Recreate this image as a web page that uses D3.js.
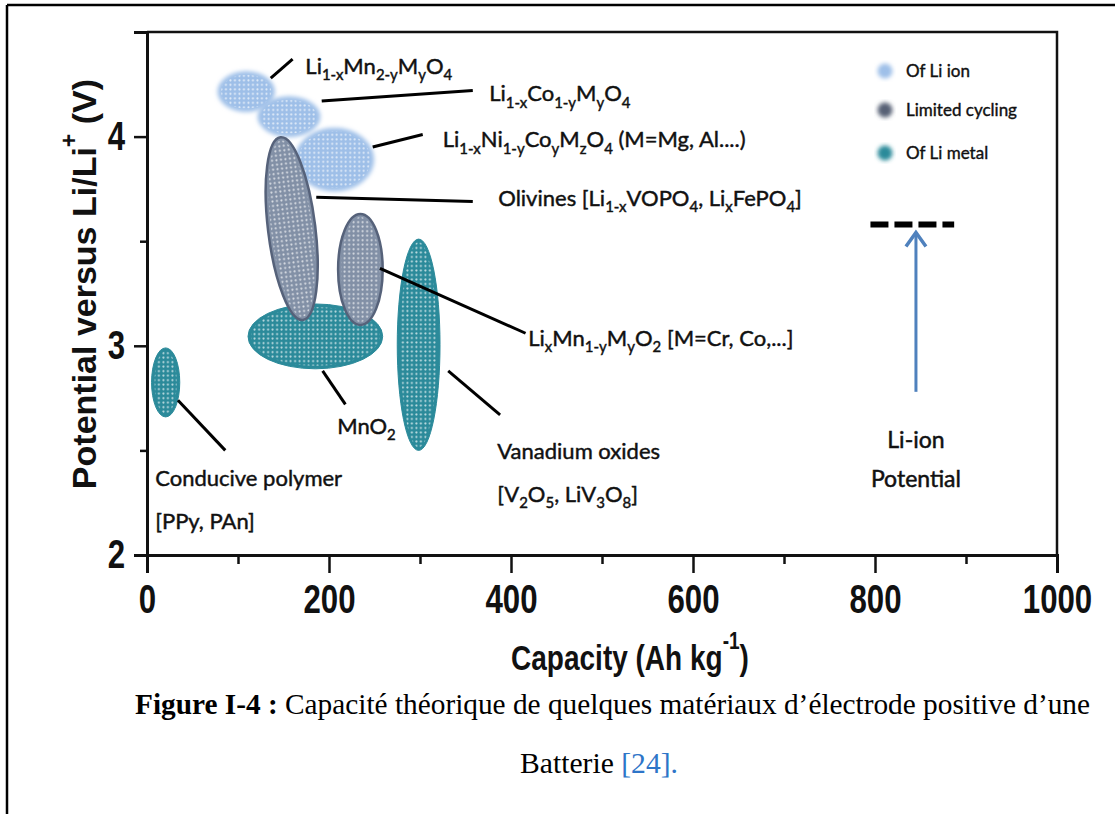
<!DOCTYPE html>
<html>
<head>
<meta charset="utf-8">
<script src="https://cdn.jsdelivr.net/npm/d3@7"></script>
<style>
  body { margin: 0; background: #fff; }
  svg { display: block; }
</style>
</head>
<body>
<svg id="chart"></svg>
<script>
// electrode materials: capacity range (Ah/kg), potential range (V), tilt, family
const names = ['Li_{1-x}Mn_{2-y}M_{y}O_{4}', 'Li_{1-x}Co_{1-y}M_{y}O_{4}', 'Li_{1-x}Ni_{1-y}Co_{y}M_{z}O_{4} (M=Mg, Al....)',
  'Olivines [Li_{1-x}VOPO_{4}, Li_{x}FePO_{4}]', 'Li_{x}Mn_{1-y}M_{y}O_{2} [M=Cr, Co,...]', 'MnO_{2}',
  'Conducive polymer', 'Vanadium oxides'];
const capMin = [78, 122, 163, 133, 210, 111, 5, 275];
const capMax = [140, 190, 249, 185, 259, 259, 36, 322];
const potMin = [4.12, 4.00, 3.74, 3.12, 3.10, 2.89, 2.66, 2.50];
const potMax = [4.31, 4.19, 4.04, 4.00, 3.63, 3.20, 2.99, 3.51];
const tilt = [0, 0, 0, -7, 0, 0, 0, 0];
const family = ['ion', 'ion', 'ion', 'limited', 'limited', 'metal', 'metal', 'metal'];

// leader lines (capacity, potential) from shape to label
const leaderFrom = [[136, 4.28], [192, 4.17], [248, 3.95], [186, 3.71], [256, 3.37], [193, 2.88], [34, 2.74], [331, 2.88]];
const leaderTo = [[160, 4.37], [358, 4.22], [303, 4.01], [358, 3.69], [416, 3.06], [218, 2.72], [86, 2.50], [388, 2.67]];
const labelAt = [[174, 4.30], [376, 4.17], [325, 3.95], [386, 3.67], [419, 3.00], [209, 2.58], [9, 2.33], [385, 2.46]];
const secondLine = [null, null, null, null, null, null, '[PPy, PAn]', '[V_{2}O_{5}, LiV_{3}O_{8}]'];

const liIonPotential = 3.58;
const liIonCap = [795, 887];
const arrowCap = 845, arrowFrom = 2.78;

const legendLabels = ['Of Li ion', 'Limited cycling', 'Of Li metal'];
const xTicks = [0, 200, 400, 600, 800, 1000];
const yTicks = [2, 3, 4];

const W = 1117, H = 814;
const svg = d3.select('#chart').attr('width', W).attr('height', H);

const x = d3.scaleLinear().domain([0, 1000]).range([147, 1057]);
const y = d3.scaleLinear().domain([2, 4.5]).range([555, 32]);

const fill = { ion: '#9ebfe8', limited: '#8290a6', metal: '#2b8a9a' };
const edge = { ion: '#9ebfe8', limited: '#56627a', metal: '#2b8a9a' };

const defs = svg.append('defs');
defs.append('filter').attr('id', 'blur').attr('x', '-20%').attr('y', '-20%').attr('width', '140%').attr('height', '140%')
  .append('feGaussianBlur').attr('stdDeviation', 2.2);
const pat = defs.append('pattern').attr('id', 'dots').attr('patternUnits', 'userSpaceOnUse')
  .attr('width', 4.5).attr('height', 4.5);
pat.append('circle').attr('cx', 2.25).attr('cy', 2.25).attr('r', 1.05).attr('fill', '#fff').attr('opacity', 0.7);

// outer page frame
svg.append('line').attr('x1', 7).attr('y1', 5).attr('x2', 7).attr('y2', H).attr('stroke', '#000').attr('stroke-width', 2.5);
svg.append('line').attr('x1', 7).attr('y1', 5).attr('x2', 1115).attr('y2', 5).attr('stroke', '#000').attr('stroke-width', 2.5);

// plot frame top / right
svg.append('path').attr('d', `M${x(0)},${y(4.5)}H${x(1000)}V${y(2)}`)
  .attr('fill', 'none').attr('stroke', '#111').attr('stroke-width', 2.5);

// ellipses: light blue first, then teal, then grey
const rank = { ion: 0, metal: 1, limited: 2 };
const order = d3.range(names.length).sort((a, b) => rank[family[a]] - rank[family[b]]);
const shapes = svg.append('g');
order.forEach(i => {
  const cx = x((capMin[i] + capMax[i]) / 2), cy = y((potMin[i] + potMax[i]) / 2);
  const rx = (x(capMax[i]) - x(capMin[i])) / 2, ry = (y(potMin[i]) - y(potMax[i])) / 2;
  const g = shapes.append('g').attr('transform', `translate(${cx},${cy}) rotate(${tilt[i]})`);
  g.append('ellipse').attr('rx', rx).attr('ry', ry).attr('fill', fill[family[i]])
    .attr('stroke', edge[family[i]]).attr('stroke-width', family[i] === 'limited' ? 2.5 : 1)
    .attr('filter', family[i] === 'ion' ? 'url(#blur)' : null);
  g.append('ellipse').attr('rx', rx - 3).attr('ry', ry - 3).attr('fill', 'url(#dots)');
});

// leader lines
svg.append('g').selectAll('line').data(leaderFrom).join('line')
  .attr('x1', d => x(d[0])).attr('y1', d => y(d[1]))
  .attr('x2', (d, i) => x(leaderTo[i][0])).attr('y2', (d, i) => y(leaderTo[i][1]))
  .attr('stroke', '#000').attr('stroke-width', 3);

// rich text with _{sub} and ^{sup}
function rich(sel, str, fs, supShift) {
  const parts = str.split(/(_\{[^}]*\}|\^\{[^}]*\})/).filter(s => s.length);
  let shift = 0;
  parts.forEach(p => {
    let t = p, s = 0, size = fs;
    if (p.startsWith('_{')) { t = p.slice(2, -1); s = fs * 0.3; size = fs * 0.68; }
    else if (p.startsWith('^{')) { t = p.slice(2, -1); s = -fs * (supShift || 0.45); size = fs * 0.68; }
    sel.append('tspan').attr('dy', s - shift).attr('font-size', size).text(t);
    shift = s;
  });
}

const labFont = 'Lato, "Open Sans", sans-serif';
const lab = svg.append('g').attr('font-family', labFont).attr('fill', '#111')
  .attr('stroke', '#111').attr('stroke-width', 0.45);
names.forEach((n, i) => {
  const t = lab.append('text').attr('x', x(labelAt[i][0])).attr('y', y(labelAt[i][1])).attr('font-size', 22);
  rich(t, n, 22);
  if (secondLine[i]) {
    const t2 = lab.append('text').attr('x', x(labelAt[i][0])).attr('y', y(labelAt[i][1]) + 43).attr('font-size', 22);
    rich(t2, secondLine[i], 22);
  }
});

// Li-ion potential marker
svg.append('line').attr('x1', x(liIonCap[0])).attr('x2', x(liIonCap[1]))
  .attr('y1', y(liIonPotential)).attr('y2', y(liIonPotential))
  .attr('stroke', '#000').attr('stroke-width', 6).attr('stroke-dasharray', '18,6');
const ax = x(arrowCap);
svg.append('line').attr('x1', ax).attr('x2', ax).attr('y1', y(arrowFrom)).attr('y2', y(liIonPotential) + 8)
  .attr('stroke', '#4f81bd').attr('stroke-width', 3);
svg.append('path').attr('d', `M${ax - 10},${y(liIonPotential) + 22}L${ax},${y(liIonPotential) + 8}L${ax + 10},${y(liIonPotential) + 22}`)
  .attr('fill', 'none').attr('stroke', '#4f81bd').attr('stroke-width', 3.5);
svg.append('g').attr('font-family', labFont).attr('font-size', 23).attr('text-anchor', 'middle').attr('fill', '#111')
  .attr('stroke', '#111').attr('stroke-width', 0.5)
  .selectAll('text').data(['Li-ion', 'Potential']).join('text')
  .attr('x', ax).attr('y', (d, i) => y(2.51) + i * 39).text(d => d);

// legend
const lg = svg.append('g').attr('font-family', labFont).attr('font-size', 17).attr('fill', '#111')
  .attr('stroke', '#111').attr('stroke-width', 0.4);
['ion', 'limited', 'metal'].forEach((f, i) => {
  const yy = [71, 110, 153][i];
  lg.append('circle').attr('cx', 885).attr('cy', yy).attr('r', 7.5).attr('stroke', 'none')
    .attr('fill', f === 'limited' ? '#566074' : fill[f]).attr('filter', 'url(#blur)');
  lg.append('text').attr('x', 906).attr('y', yy + 6).text(legendLabels[i]);
});

// axes
const tickFont = '"Liberation Sans", Arial, sans-serif';
const xAxis = svg.append('g').attr('transform', `translate(0,${y(2)})`)
  .call(d3.axisBottom(x).tickValues(xTicks).tickSize(18).tickPadding(12).tickFormat(d3.format('d')));
svg.append('g').attr('transform', `translate(0,${y(2)})`)
  .call(d3.axisBottom(x).tickValues(d3.range(100, 1000, 200)).tickSize(9).tickFormat(''))
  .select('.domain').remove();
const yAxis = svg.append('g').attr('transform', `translate(${x(0)},0)`)
  .call(d3.axisLeft(y).tickValues(yTicks).tickSize(13).tickPadding(8).tickFormat(d3.format('d')));
svg.append('g').attr('transform', `translate(${x(0)},0)`)
  .call(d3.axisLeft(y).tickValues([2.5, 3.5]).tickSize(7).tickFormat(''))
  .select('.domain').remove();
svg.selectAll('.domain').attr('stroke', '#111').attr('stroke-width', 3);
svg.selectAll('.tick line').attr('stroke', '#111').attr('stroke-width', 2.5);
[xAxis, yAxis].forEach(a => a.selectAll('text')
  .attr('font-family', tickFont).attr('font-weight', 'bold').attr('font-size', 40).attr('fill', '#111')
  .attr('transform', 'scale(0.78,1)'));
yAxis.selectAll('text').attr('x', -22 / 0.78);

// axis titles
const xt = svg.append('text').attr('x', 630 / 0.8).attr('y', 670).attr('transform', 'scale(0.8,1)')
  .attr('text-anchor', 'middle').attr('font-family', tickFont).attr('font-weight', 'bold').attr('font-size', 35).attr('fill', '#111');
rich(xt, 'Capacity (Ah kg^{-1})', 35, 0.6);
const yt = svg.append('text').attr('transform', `translate(96,284) rotate(-90)`)
  .attr('text-anchor', 'middle').attr('font-family', tickFont).attr('font-weight', 'bold').attr('font-size', 34).attr('fill', '#111');
rich(yt, 'Potential versus Li/Li^{+} (V)', 34, 0.55);

// caption
const cap = svg.append('g').attr('font-family', '"Liberation Serif", "Times New Roman", serif').attr('font-size', 29).attr('fill', '#000');
const c1 = cap.append('text').attr('x', 135).attr('y', 714).attr('textLength', 955).attr('lengthAdjust', 'spacingAndGlyphs');
c1.append('tspan').attr('font-weight', 'bold').text('Figure I-4 :');
c1.append('tspan').text(' Capacité théorique de quelques matériaux  d’électrode positive d’une');
const c2 = cap.append('text').attr('x', 520).attr('y', 773).attr('textLength', 158).attr('lengthAdjust', 'spacingAndGlyphs');
c2.append('tspan').text('Batterie ');
c2.append('tspan').attr('fill', '#2e75c8').text('[24].');
</script>
</body>
</html>
